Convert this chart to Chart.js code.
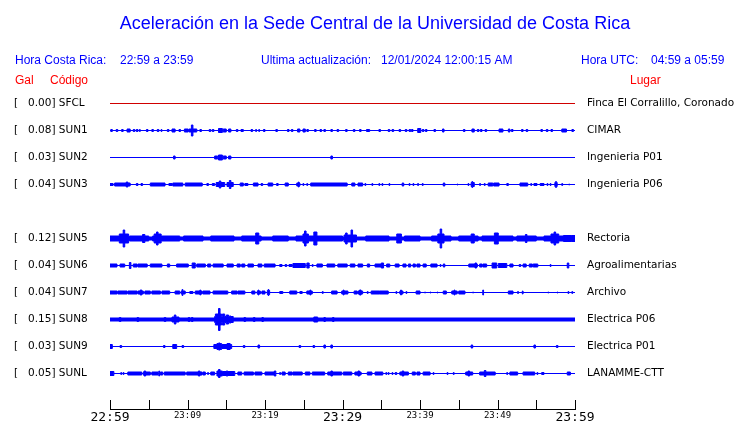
<!DOCTYPE html>
<html>
<head>
<meta charset="utf-8">
<script src="https://cdn.jsdelivr.net/npm/chart.js@4/dist/chart.umd.min.js"></script>
<style>
  html, body { margin: 0; background: #fff; }
  #wrap { position: relative; width: 740px; height: 423px; }
</style>
</head>
<body>
<div id="wrap"><canvas id="c" width="740" height="423"></canvas></div>
<script>
// Acceleration traces, 22:59 - 23:59 (minutes since 22:59)
const TIME_LABELS = ['22:59', '', '23:09', '', '23:19', '', '23:29', '', '23:39', '', '23:49', '', '23:59'];

// one slot per row, null = empty row
const GAL    = ['0.00', '0.08', '0.03', '0.04', null, '0.12', '0.04', '0.04', '0.15', '0.03', '0.05'];
const CODES  = ['SFCL', 'SUN1', 'SUN2', 'SUN3', null, 'SUN5', 'SUN6', 'SUN7', 'SUN8', 'SUN9', 'SUNL'];
const PLACES = ['Finca El Corralillo, Coronado', 'CIMAR', 'Ingenieria P01', 'Ingenieria P06', null,
                'Rectoria', 'Agroalimentarias', 'Archivo', 'Electrica P06', 'Electrica P01', 'LANAMME-CTT'];
// background half-amplitude of each trace
const BASE   = [0, 0, 0, 0, null, 2, 0.3, 0.3, 2, 0.5, 0.5];

// bursts: [start minute, end minute, half-amplitude]
const EV_SFCL = [];
const EV_SUN1 = [[0.1,0.3,1.5],[0.8,1.0,1.5],[1.5,1.7,1.5],[2.2,2.6,2],[3.0,3.2,1.5],[3.4,3.6,1.5],[3.8,3.9,1.5],
  [4.7,4.9,1.5],[5.4,5.6,1.5],[6.1,6.3,1.5],[6.6,6.7,1.5],[7.4,7.6,1.5],[8.0,8.4,2],[8.9,9.1,1.5],[9.6,10.1,2],
  [10.2,11.2,2],[10.5,10.7,6],[11.6,11.8,1.5],[12.8,13.0,1.5],[13.2,13.4,1.5],[14.0,14.5,2.5],[14.6,15.0,2],
  [15.3,15.6,2],[16.3,16.5,1.5],[16.9,17.2,1.5],[18.2,18.4,1.5],[18.8,18.9,1.5],[19.2,19.3,1.5],[19.8,20.0,1.5],
  [21.4,21.6,1.5],[22.9,23.1,1.5],[23.4,23.6,1.5],[24.2,24.5,2],[24.9,25.2,2],[25.4,25.6,1.5],[26.4,26.6,1.5],
  [27.1,27.3,1.5],[27.6,27.8,1.5],[28.5,28.7,1.5],[29.3,29.5,1.5],[30.4,30.6,1.5],[31.4,31.6,1.5],[32.2,32.4,1.5],
  [33.1,33.5,1.5],[34.7,34.9,1.5],[35.9,36.1,1.5],[36.4,36.6,1.5],[37.3,37.5,1.5],[38.1,38.3,1.5],[38.6,38.8,1.5],
  [38.9,39.1,1.5],[39.7,40.1,2.5],[40.3,40.5,1.5],[40.7,40.9,1.5],[41.8,42.0,1.5],[42.9,43.1,2],[45.6,45.8,1.5],
  [46.7,47.0,2],[47.4,47.6,1.5],[47.8,48.0,1.5],[48.4,48.6,1.5],[50.2,50.7,2],[51.4,51.6,2],[51.8,52.0,1.5],
  [53.1,53.3,1.5],[53.7,53.9,1.5],[55.6,55.8,1.5],[56.3,56.5,1.5],[56.9,57.1,1.5],[58.3,58.9,2],[59.6,59.8,1.5]];
const EV_SUN2 = [[8.2,8.4,2],[13.5,13.9,2],[14.0,14.5,3],[14.6,15.0,2],[15.3,15.6,2],[28.5,28.7,2]];
const EV_SUN3 = [[0,0.4,1.5],[0.6,2.6,2],[2.1,2.3,3],[3.4,3.6,1.5],[4.0,4.2,1.5],[5.2,7.1,2],[7.6,8.0,1.5],
  [8.1,9.4,2],[9.7,11.9,2],[12.5,12.7,1.5],[13.2,13.5,1.5],[13.7,14.8,2.5],[14.1,14.3,4],[15.1,15.9,2.5],
  [15.4,15.6,4.5],[16.8,17.2,2],[17.4,17.8,1.5],[18.5,19.1,2],[19.5,19.7,1.5],[20.4,21.0,2],[21.5,21.7,1.5],
  [22.6,23.0,2],[24.1,24.5,2],[24.3,24.4,3],[24.9,25.0,1.5],[25.4,25.5,1.5],[25.9,30.6,2],[31.2,31.6,2],
  [32.0,32.6,2],[32.9,33.0,1.5],[33.8,33.9,1.5],[34.7,34.8,1.5],[35.1,35.2,1.5],[36.0,36.1,1.5],[37.7,37.9,2],
  [38.6,38.7,1.5],[39.1,39.2,1.5],[39.7,39.8,1.5],[40.3,40.4,1.5],[43.0,43.2,2],[44.8,44.9,1],[46.2,46.3,1.5],
  [46.6,47.0,2.5],[46.7,46.8,3.5],[47.7,47.8,1.5],[48.3,48.4,1.5],[48.8,49.4,2],[49.5,50.2,2],[51.2,51.4,1.5],
  [52.9,53.9,2],[54.3,54.4,1.5],[54.7,55.1,1.5],[55.5,56.0,1.5],[56.4,56.5,1.5],[56.8,56.9,1.5],[57.4,57.7,2.5],
  [57.5,57.6,3.5],[58.3,58.4,1.5],[59.2,59.3,1]];
const EV_SUN5 = [[0,1.2,3],[1.2,2.4,5],[1.7,1.9,9],[2.5,5.0,3],[4.2,4.5,4.5],[5.5,9.0,3],[5.7,6.6,5],[6.0,6.2,7],
  [9.5,12.0,3],[13.0,16.0,3],[17.0,19.5,3],[18.8,19.2,6],[21.0,23.0,3],[24.0,30.0,3],[24.9,25.6,5],[25.1,25.3,8],
  [26.3,26.7,7],[30.2,31.8,4],[30.4,30.6,6],[31.1,31.3,9],[33.0,36.0,3],[37.0,37.6,5],[38.0,40.0,3],[41.5,44.0,3],
  [42.3,43.1,5],[42.6,42.8,10],[45.0,47.5,3],[46.6,47.0,5],[48.0,52.0,3],[49.6,50.1,6],[52.5,55.0,3],
  [53.6,53.8,4.5],[56.0,59.5,3],[56.9,57.9,5],[57.3,57.5,7],[58.5,60,3.5]];
const EV_SUN6 = [[0,0.9,2],[1.3,1.9,2],[2.5,2.7,3.5],[3.0,3.5,2],[3.6,4.8,2],[5.2,6.7,2],[7.4,7.7,2],[8.6,10.1,2],
  [10.6,11.0,3],[11.2,12.3,2],[12.6,13.0,2],[13.3,14.6,2],[15.1,15.9,2],[16.4,16.8,2],[17.0,17.4,2],[17.8,18.5,2],
  [19.1,19.6,2],[19.9,21.3,2],[21.9,22.2,1.5],[22.6,22.8,1.5],[23.1,23.5,1.5],[23.6,25.2,2.5],[25.4,25.7,3],
  [26.1,26.2,1.5],[26.7,27.4,2],[28.0,29.0,2],[29.4,30.6,2],[31.0,31.6,2],[32.0,32.6,2],[33.2,33.5,2],[34.2,35.1,2],
  [35.0,35.3,3],[35.7,36.1,2],[36.8,37.3,2],[37.8,38.2,2],[38.5,38.8,2],[39.1,39.4,2],[39.6,40.0,2],[40.4,40.8,2],
  [41.4,42.2,2],[42.6,42.7,1.5],[43.0,43.2,2],[46.3,47.4,2],[47.1,47.3,3],[47.7,48.0,2],[48.1,48.6,2],[49.3,49.9,3],
  [50.1,51.2,2.5],[51.6,52.0,2],[52.8,53.0,1.5],[53.3,53.7,2],[54.1,54.5,2],[54.6,55.2,2],[56.8,56.9,1.5],[59.0,59.2,3]];
const EV_SUN7 = [[0,0.9,2],[1.0,2.2,2],[2.3,3.5,2],[3.6,4.3,2],[3.9,4.1,3],[4.5,5.2,2],[5.4,6.5,2],[6.7,7.7,2],
  [8.4,9.0,2],[9.2,9.7,2],[9.3,9.4,3.5],[10.3,10.7,1.5],[11.0,11.9,2],[11.6,11.7,3],[12.0,12.9,2],[13.3,15.2,2],
  [15.7,16.4,2],[16.5,17.4,2],[18.3,18.7,2],[19.0,19.4,2],[19.1,19.2,3],[19.6,20.0,2],[20.3,20.6,2.5],[20.4,20.5,3.5],
  [21.9,22.3,1.5],[23.2,24.1,2],[24.5,24.8,1.5],[25.4,26.1,2],[25.8,25.9,3],[27.4,27.5,1.5],[28.6,29.3,2],
  [29.9,30.3,2],[30.1,30.2,3],[30.3,30.7,2],[31.5,31.9,2],[32.0,32.6,2],[32.2,32.4,3],[33.2,33.3,1.5],[33.7,34.8,2],
  [34.8,35.9,2],[36.9,37.0,1.5],[37.4,37.8,2],[37.5,37.6,3],[38.2,38.3,1.5],[39.5,40.0,2],[40.6,40.7,1],
  [41.3,41.4,1],[42.2,42.3,1],[43.0,43.4,2],[44.1,44.8,2],[44.4,44.5,3],[45.0,45.8,2],[46.8,46.9,1],[48.1,48.2,3],
  [51.4,52.0,2],[52.6,52.7,1.5],[53.2,53.3,2],[56.5,56.6,1],[57.7,57.8,1],[59.1,59.2,1.5],[59.6,59.7,1.5]];
const EV_SUN8 = [[1.2,1.4,2.5],[3.5,3.7,2.5],[7.0,7.2,2.5],[8.0,8.9,3],[8.3,8.5,5],[10.1,10.3,2.5],[10.5,10.7,2.5],
  [13.5,15.9,3.5],[13.6,14.4,6],[14.0,14.2,11.5],[14.5,14.8,6],[15.0,15.3,5],[15.4,15.6,4],[17.3,17.5,2.5],
  [18.5,18.7,2.5],[19.6,19.8,2.5],[26.3,26.8,3],[27.6,27.8,2.5],[28.7,28.9,2.5]];
const EV_SUN9 = [[0,0.3,2.5],[1.3,1.5,1.5],[6.9,7.1,1.5],[8.1,8.6,2.5],[9.3,9.5,1.5],[13.4,15.7,2.5],[13.8,14.4,3.5],
  [14.0,14.2,4],[15.1,15.5,3.5],[17.2,17.4,1.5],[19.1,19.3,2],[24.4,24.6,1.5],[26.2,26.4,1.5],[27.6,27.8,2],
  [28.5,28.7,2],[46.6,46.8,2],[54.7,54.9,2],[57.6,57.8,1.5]];
const EV_SUNL = [[0,0.5,2.5],[1.4,1.5,1.5],[1.7,1.8,1.5],[2.3,4.1,2],[4.3,5.2,2],[4.4,4.6,3],[5.4,6.2,2],[6.3,6.4,3],
  [6.5,6.8,2],[7.0,9.7,2],[9.9,11.9,2],[11.4,11.6,3],[12.0,12.3,2],[12.6,12.7,1.5],[13.0,13.5,2],[13.8,14.5,3],
  [14.0,14.2,4.5],[14.5,16.1,2.5],[15.0,15.2,3],[16.5,17.0,2],[17.3,18.5,2],[18.7,19.6,2],[20.0,21.4,2],[21.2,21.4,3],
  [21.9,22.0,1.5],[22.2,22.6,2],[23.0,23.5,2],[23.6,24.8,2],[25.2,25.8,2],[26.1,27.7,2],[28.1,29.9,2],[28.5,28.7,3],
  [30.1,31.2,2],[31.6,32.4,2],[32.0,32.2,3],[33.2,33.8,2],[34.2,35.2,2],[35.6,35.7,1.5],[35.9,36.0,1.5],
  [36.4,36.5,1.5],[36.8,37.0,1.5],[37.4,38.5,2],[37.7,37.9,3],[39.0,39.4,2],[39.6,40.0,2],[40.4,41.3,2],
  [41.7,41.8,1.5],[43.5,43.6,1.5],[44.3,44.4,1.5],[45.9,46.8,2],[46.2,46.4,3],[47.7,49.7,2],[48.3,48.5,3.5],
  [51.2,51.3,1.5],[51.6,52.6,2],[53.3,54.8,2],[55.1,55.2,1.5],[55.7,56.0,1.5],[59.0,59.4,2]];
const EVENTS = [EV_SFCL, EV_SUN1, EV_SUN2, EV_SUN3, null, EV_SUN5, EV_SUN6, EV_SUN7, EV_SUN8, EV_SUN9, EV_SUNL];

const ROW = 27;           // amplitude units per row
const BLUE = '#0000ff', RED = '#ff0000';

// step envelope from bursts
function envelope(ev, base) {
  const cuts = new Set([0, 60]);
  ev.forEach(e => { cuts.add(e[0]); cuts.add(e[1]); });
  const xs = [...cuts].sort((a, b) => a - b);
  const pts = [];
  for (let k = 0; k < xs.length - 1; k++) {
    const m = (xs[k] + xs[k + 1]) / 2;
    let a = base;
    ev.forEach(e => { if (e[0] <= m && m <= e[1] && e[2] > a) a = e[2]; });
    pts.push([xs[k], a]);
  }
  pts.push([60, pts[pts.length - 1][1]]);
  return pts;
}

const datasets = [];
CODES.forEach((code, i) => {
  if (!code) return;
  const col = code === 'SFCL' ? '#d00000' : BLUE;
  const env = envelope(EVENTS[i], BASE[i]);
  // the 1px outline already adds half a unit on each side
  const half = a => Math.max(a - 0.5, 0) / ROW;
  const common = { borderColor: col, backgroundColor: col, borderWidth: 1, pointRadius: 0, stepped: true };
  datasets.push({ ...common, label: code, data: env.map(p => ({ x: p[0], y: -i + half(p[1]) })), fill: '+1' });
  datasets.push({ ...common, label: code + '-', data: env.map(p => ({ x: p[0], y: -i - half(p[1]) })), fill: false });
});

const deco = {
  id: 'deco',
  afterDraw(chart) {
    const { ctx, scales: { x, y }, chartArea } = chart;
    ctx.save();
    // tick marks pointing up from the time axis
    ctx.strokeStyle = '#000'; ctx.lineWidth = 1;
    x.ticks.forEach(t => {
      const px = Math.round(x.getPixelForValue(t.value)) + 0.5;
      ctx.beginPath(); ctx.moveTo(px, chartArea.bottom); ctx.lineTo(px, chartArea.bottom - 9); ctx.stroke();
    });
    // header
    ctx.textBaseline = 'alphabetic';
    ctx.fillStyle = BLUE;
    ctx.font = '18px "Liberation Sans", Arial, sans-serif';
    ctx.textAlign = 'center';
    ctx.fillText('Aceleración en la Sede Central de la Universidad de Costa Rica', 375, 29);
    ctx.textAlign = 'left';
    ctx.font = '12px "Liberation Sans", Arial, sans-serif';
    ctx.fillText('Hora Costa Rica:', 15, 64);
    ctx.fillText('22:59 a 23:59', 120, 64);
    ctx.fillText('Ultima actualización:', 261, 64);
    ctx.fillText('12/01/2024 12:00:15 AM', 381, 64);
    ctx.fillText('Hora UTC:', 581, 64);
    ctx.fillText('04:59 a 05:59', 651, 64);
    ctx.fillStyle = RED;
    ctx.fillText('Gal', 15, 84);
    ctx.fillText('Código', 50, 84);
    ctx.fillText('Lugar', 630, 84);
    // station labels
    ctx.fillStyle = '#000';
    ctx.font = '10.5px "DejaVu Sans", sans-serif';
    ctx.textBaseline = 'middle';
    CODES.forEach((code, i) => {
      if (!code) return;
      const py = y.getPixelForValue(-i);
      ctx.fillText('[', 14, py);
      ctx.fillText(GAL[i] + '] ' + code, 28, py);
      ctx.fillText(PLACES[i], 587, py);
    });
    ctx.restore();
  }
};

new Chart(document.getElementById('c'), {
  type: 'line',
  data: { datasets },
  options: {
    responsive: false,
    animation: false,
    devicePixelRatio: 1,
    layout: { padding: { left: 110, right: 165, top: 90, bottom: 0 } },
    plugins: { legend: { display: false }, tooltip: { enabled: false } },
    scales: {
      x: {
        type: 'linear', min: 0, max: 60,
        grid: { display: false, drawTicks: false },
        border: { display: true, color: '#000', width: 1 },
        afterFit(s) { s.height = 14; },
        ticks: {
          stepSize: 5, autoSkip: false, maxRotation: 0, padding: 1, color: '#000',
          callback: v => TIME_LABELS[v / 5],
          font: c => ({ family: '"DejaVu Sans Mono", monospace', size: c.tick && c.tick.value % 30 === 0 ? 13 : 9 })
        }
      },
      y: { display: false, min: -10 - 35.5 / ROW, max: 0.5 }
    }
  },
  plugins: [deco]
});
</script>
</body>
</html>
